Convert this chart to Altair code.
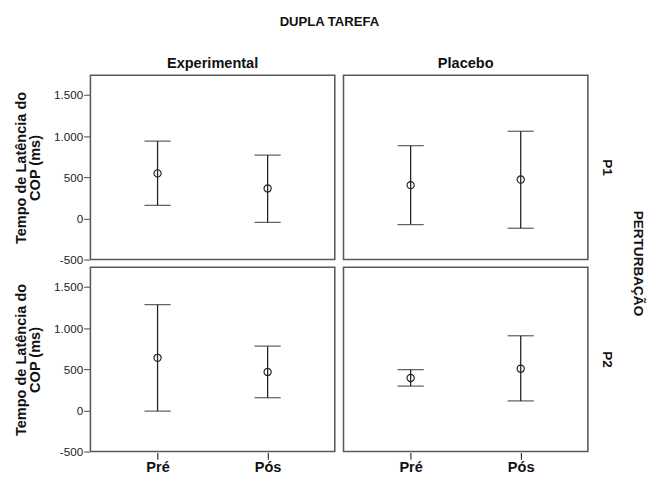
import altair as alt
import pandas as pd

grupos = ["Experimental", "Experimental", "Placebo", "Placebo",
          "Experimental", "Experimental", "Placebo", "Placebo"]
perturb = ["P1", "P1", "P1", "P1", "P2", "P2", "P2", "P2"]
tempo = ["Pré", "Pós", "Pré", "Pós", "Pré", "Pós", "Pré", "Pós"]
media = [548, 365, 405, 473, 640, 468, 395, 507]
inferior = [158, -48, -75, -119, -8, 155, 296, 116]
superior = [940, 770, 885, 1060, 1286, 782, 496, 908]

df = pd.DataFrame({
    "grupo": grupos, "perturb": perturb, "tempo": tempo,
    "media": media, "inferior": inferior, "superior": superior,
})

FONT = "Liberation Sans"
INK = "#222222"

x = alt.X("tempo:N", sort=["Pré", "Pós"],
          scale=alt.Scale(type="point", padding=0.61),
          axis=alt.Axis(title=None, labelAngle=0, labelFontSize=15,
                        labelFontWeight="bold", labelColor="#111",
                        domain=False, ticks=True, tickSize=7,
                        tickColor="#333", tickWidth=1.2, labelPadding=1))
yscale = alt.Scale(domain=[-500, 1740], nice=False, zero=False)
y_axis = alt.Axis(
    title=["Tempo de Latência do", "COP (ms)"],
    values=[-500, 0, 500, 1000, 1500],
    labelExpr="replace(replace(format(datum.value, ','), ',', '.'), '\u2212', '-')",
    labelFontSize=12, labelColor="#222", labelPadding=1,
    tickSize=6, tickColor="#444", domain=False, grid=False,
    titleFontSize=15, titleFontWeight="bold", titleColor="#111",
    titlePadding=11, titleLineHeight=15,
)

base = alt.Chart(df)
rules = base.mark_rule(color=INK, strokeWidth=1.3).encode(
    x=x, y=alt.Y("inferior:Q", scale=yscale, axis=y_axis), y2="superior:Q")
cap_lo = base.mark_tick(color=INK, size=27, thickness=1.3, orient="horizontal").encode(
    x=x, y=alt.Y("inferior:Q", scale=yscale))
cap_hi = base.mark_tick(color=INK, size=27, thickness=1.3, orient="horizontal").encode(
    x=x, y=alt.Y("superior:Q", scale=yscale))
pts = base.mark_point(shape="circle", filled=False, size=55, color=INK,
                      strokeWidth=1.2, opacity=1).encode(
    x=x, y=alt.Y("media:Q", scale=yscale))

layer = alt.layer(rules, cap_lo, cap_hi, pts).properties(width=252, height=190)

chart = layer.facet(
    column=alt.Column("grupo:N", sort=["Experimental", "Placebo"],
                      header=alt.Header(title=None, labelFontSize=15,
                                        labelFontWeight="bold", labelColor="#111",
                                        labelPadding=4)),
    row=alt.Row("perturb:N", sort=["P1", "P2"],
                header=alt.Header(title="PERTURBAÇÃO", titleOrient="right",
                                  titleAngle=90, titleFontSize=14,
                                  titleFontWeight="bold", titleColor="#111",
                                  titlePadding=8, labelOrient="right",
                                  labelAngle=90, labelFontSize=14,
                                  labelFontWeight="bold", labelColor="#111",
                                  labelPadding=12)),
    spacing={"row": 6, "column": 7},
).properties(
    title=alt.Title("DUPLA TAREFA", fontSize=13.5, fontWeight="bold",
                    color="#111", anchor="middle", offset=28),
    padding={"left": 5, "top": 0, "right": 2, "bottom": 2},
).configure(
    font=FONT, background="white"
).configure_view(
    stroke="#5a5a5a", strokeWidth=1.6
)

chart.save("out.html", embed_options={"renderer": "svg", "actions": False})
